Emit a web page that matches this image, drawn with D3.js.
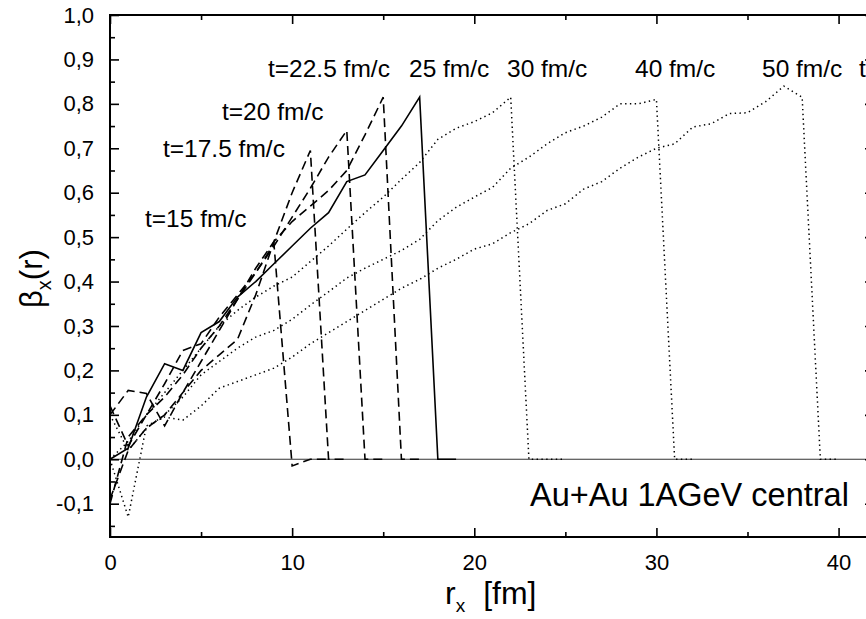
<!DOCTYPE html>
<html>
<head>
<meta charset="utf-8">
<script src="https://cdn.jsdelivr.net/npm/d3@7/dist/d3.min.js"></script>
<style>
body { margin: 0; background: #fff; }
text { font-family: "Liberation Sans", Arial, sans-serif; fill: #000; }
</style>
</head>
<body>
<div id="chart"></div>
<script>
// beta_x(r) profiles, one value per fm starting at r = 0
var t15   = [0.12, 0.03, 0.10, 0.17, 0.245, 0.26, 0.32, 0.37, 0.42, 0.485, -0.015, 0, 0];
var t17_5 = [0.10, 0.155, 0.148, 0.075, 0.15, 0.22, 0.29, 0.36, 0.43, 0.49, 0.60, 0.695, 0, 0];
var t20   = [-0.10, 0.05, 0.10, 0.14, 0.19, 0.25, 0.30, 0.36, 0.42, 0.48, 0.545, 0.61, 0.68, 0.74, 0, 0];
var t22_5 = [-0.09, 0.02, 0.07, 0.10, 0.15, 0.20, 0.235, 0.27, 0.37, 0.49, 0.535, 0.57, 0.605, 0.65, 0.73, 0.815, 0, 0];
var t25   = [0, 0.025, 0.14, 0.215, 0.20, 0.285, 0.31, 0.365, 0.40, 0.44, 0.48, 0.52, 0.555, 0.625, 0.64, 0.695, 0.75, 0.815, 0, 0];
var t30   = [0, 0.04, 0.10, 0.15, 0.20, 0.25, 0.30, 0.335, 0.365, 0.39, 0.41, 0.445, 0.48, 0.518, 0.555, 0.59, 0.63, 0.668,
             0.72, 0.745, 0.76, 0.78, 0.815, 0, 0, 0];
var t40   = [0.10, 0.02, 0.07, 0.10, 0.14, 0.19, 0.22, 0.25, 0.275, 0.29, 0.315, 0.347, 0.377, 0.408, 0.43, 0.45, 0.47, 0.495,
             0.537, 0.567, 0.59, 0.612, 0.655, 0.68, 0.71, 0.735, 0.75, 0.77, 0.80, 0.80, 0.81, 0, 0];
var t50   = [0, -0.13, 0.075, 0.095, 0.088, 0.12, 0.16, 0.175, 0.19, 0.205, 0.23, 0.26, 0.285, 0.31, 0.335, 0.36, 0.385, 0.405,
             0.43, 0.45, 0.473, 0.485, 0.51, 0.53, 0.56, 0.575, 0.608, 0.625, 0.655, 0.68, 0.70, 0.71, 0.748, 0.755, 0.778,
             0.78, 0.805, 0.84, 0.815, 0, 0];

var dashedSeries = [t15, t17_5, t20, t22_5];
var dottedSeries = [t30, t40, t50];

var xMajor = [0, 10, 20, 30, 40];
var xMinor = [5, 15, 25, 35];
var yMajor = [-0.1, 0, 0.1, 0.2, 0.3, 0.4, 0.5, 0.6, 0.7, 0.8, 0.9, 1.0];
var yMinor = [-0.15, -0.05, 0.05, 0.15, 0.25, 0.35, 0.45, 0.55, 0.65, 0.75, 0.85, 0.95];

var labels = ["t=15 fm/c", "t=17.5 fm/c", "t=20 fm/c", "t=22.5 fm/c", "25 fm/c", "30 fm/c", "40 fm/c", "50 fm/c", "t"];
var labelPos = [[145, 227], [163, 157], [222, 120], [268, 77], [409, 77], [507, 77], [635, 77], [762, 77], [859, 77]];

var width = 866, height = 619;
var margin = {left: 110, top: 15, right: 875, bottom: 537};

var svg = d3.select("#chart").append("svg")
    .attr("width", width)
    .attr("height", height);

var x = d3.scaleLinear().domain([0, 42]).range([margin.left, margin.right]);
var y = d3.scaleLinear().domain([-0.175, 1.0]).range([margin.bottom, margin.top]);

var comma = function(d) { return d.toFixed(1).replace(".", ","); };

// curves
var line = d3.line()
    .x(function(d, i) { return x(i); })
    .y(function(d) { return y(d); });

// zero reference line
svg.append("line")
    .attr("x1", x(0)).attr("x2", x(42))
    .attr("y1", y(0)).attr("y2", y(0))
    .style("stroke", "#333")
    .style("stroke-width", 1.2);

svg.selectAll(".dotted")
    .data(dottedSeries)
  .enter().append("path")
    .attr("class", "dotted")
    .attr("d", line)
    .style("fill", "none")
    .style("stroke", "#000")
    .style("stroke-width", 1.5)
    .style("stroke-dasharray", "1.4,3.4");

svg.selectAll(".dashed")
    .data(dashedSeries)
  .enter().append("path")
    .attr("class", "dashed")
    .attr("d", line)
    .style("fill", "none")
    .style("stroke", "#000")
    .style("stroke-width", 1.6)
    .style("stroke-dasharray", "9,5");

svg.append("path")
    .datum(t25)
    .attr("d", line)
    .style("fill", "none")
    .style("stroke", "#000")
    .style("stroke-width", 1.6);

// axes, ticks pointing inwards
function styleAxis(g) {
  g.select(".domain").remove();
  g.selectAll(".tick line").style("stroke", "#000").style("stroke-width", 1.6);
  g.selectAll(".tick text").style("font-size", "22px").style("font-family", "'Liberation Sans', Arial, sans-serif");
}

svg.append("g")
    .attr("transform", "translate(0," + margin.bottom + ")")
    .call(d3.axisBottom(x).tickValues(xMajor).tickSize(-9).tickPadding(17).tickFormat(d3.format("d")))
    .call(styleAxis);
svg.append("g")
    .attr("transform", "translate(0," + margin.bottom + ")")
    .call(d3.axisBottom(x).tickValues(xMinor).tickSize(-5).tickFormat(""))
    .call(styleAxis);
svg.append("g")
    .attr("transform", "translate(0," + margin.top + ")")
    .call(d3.axisTop(x).tickValues(xMajor).tickSize(-9).tickFormat(""))
    .call(styleAxis);
svg.append("g")
    .attr("transform", "translate(0," + margin.top + ")")
    .call(d3.axisTop(x).tickValues(xMinor).tickSize(-5).tickFormat(""))
    .call(styleAxis);

svg.append("g")
    .attr("transform", "translate(" + margin.left + ",0)")
    .call(d3.axisLeft(y).tickValues(yMajor).tickSize(-9).tickPadding(16).tickFormat(comma))
    .call(styleAxis);
svg.append("g")
    .attr("transform", "translate(" + margin.left + ",0)")
    .call(d3.axisLeft(y).tickValues(yMinor.filter(function(d) { return d > -0.175; })).tickSize(-5).tickFormat(""))
    .call(styleAxis);
svg.append("g")
    .attr("transform", "translate(" + margin.right + ",0)")
    .call(d3.axisRight(y).tickValues(yMajor).tickSize(-10).tickFormat(""))
    .call(styleAxis);
svg.append("g")
    .attr("transform", "translate(" + margin.right + ",0)")
    .call(d3.axisRight(y).tickValues(yMinor.filter(function(d) { return d > -0.175; })).tickSize(-5).tickFormat(""))
    .call(styleAxis);

// frame
svg.append("rect")
    .attr("x", margin.left).attr("y", margin.top)
    .attr("width", margin.right - margin.left)
    .attr("height", margin.bottom - margin.top)
    .style("fill", "none")
    .style("stroke", "#000")
    .style("stroke-width", 2);

// time labels
svg.selectAll(".tlabel")
    .data(labels)
  .enter().append("text")
    .attr("class", "tlabel")
    .attr("x", function(d, i) { return labelPos[i][0]; })
    .attr("y", function(d, i) { return labelPos[i][1]; })
    .style("font-size", "24.5px")
    .text(function(d) { return d; });

svg.append("text")
    .attr("x", 530)
    .attr("y", 506)
    .style("font-size", "32.5px")
    .text("Au+Au 1AGeV central");

// axis titles
var xt = svg.append("text")
    .attr("x", 445)
    .attr("y", 604)
    .style("font-size", "32px");
xt.append("tspan").text("r");
xt.append("tspan").attr("dy", 8).style("font-size", "19px").text("x");
xt.append("tspan").attr("dy", -8).attr("dx", 18).text("[fm]");

var yt = svg.append("text")
    .attr("transform", "translate(42,308) rotate(-90)")
    .style("font-size", "31px");
yt.append("tspan").text("β");
yt.append("tspan").attr("dy", 9).style("font-size", "20px").text("x");
yt.append("tspan").attr("dy", -9).text("(r)");
</script>
</body>
</html>
